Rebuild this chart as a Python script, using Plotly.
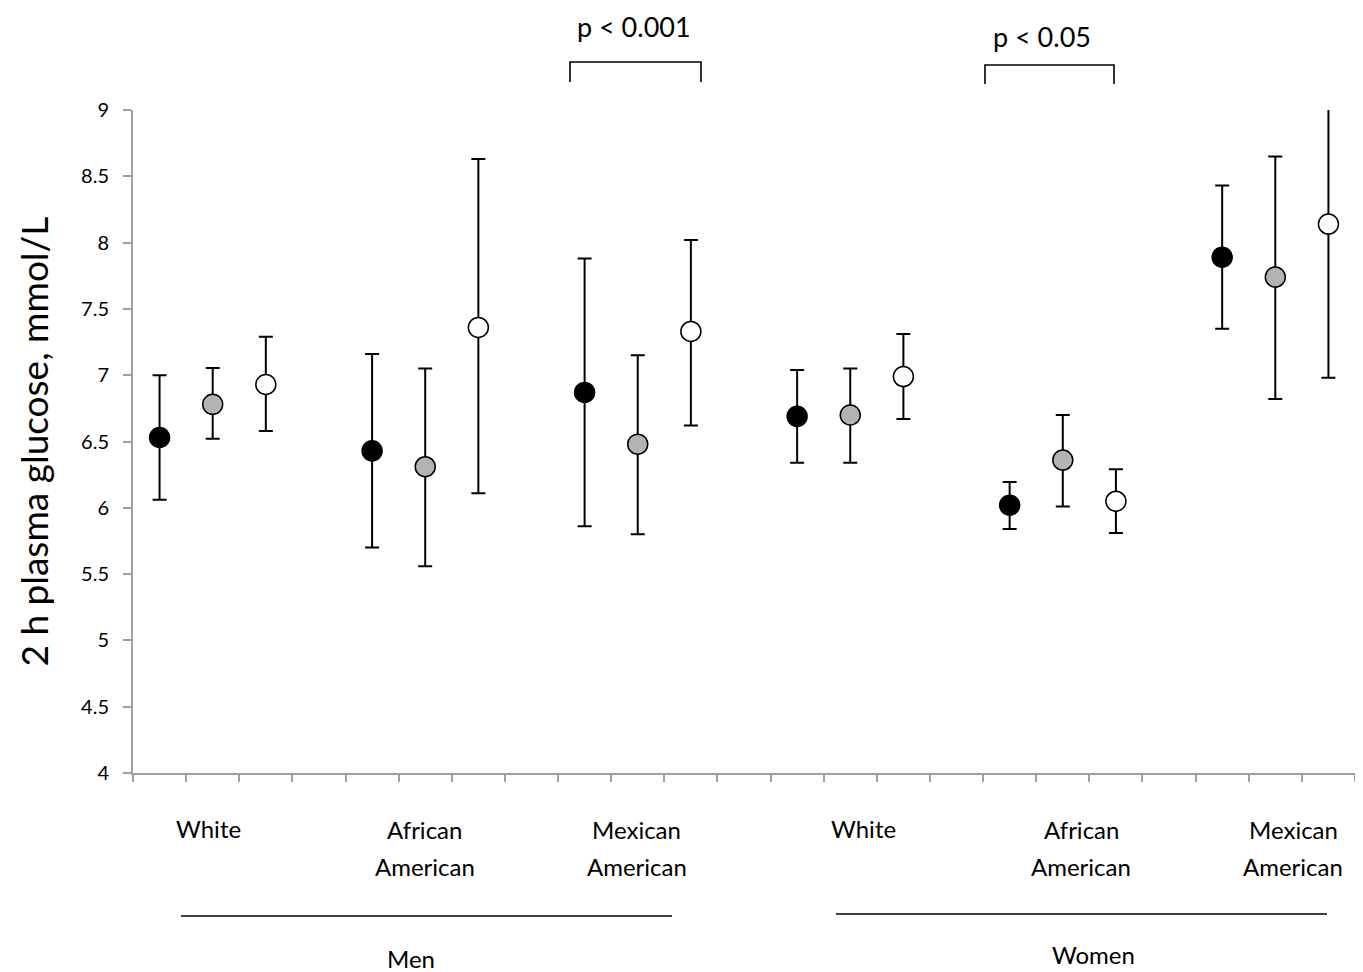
import plotly.graph_objects as go

# ---- data ----
series_names = ["Group 1", "Group 2", "Group 3"]
series_colors = ["#000000", "#b3b3b3", "#ffffff"]
# x positions (category slots; boundaries at integers, points at slot centres)
x_slots = [
    [0, 4, 8, 12, 16, 20],
    [1, 5, 9, 13, 17, 21],
    [2, 6, 10, 14, 18, 22],
]
means = [
    [6.53, 6.43, 6.87, 6.69, 6.02, 7.89],
    [6.78, 6.31, 6.48, 6.70, 6.36, 7.74],
    [6.93, 7.36, 7.33, 6.99, 6.05, 8.14],
]
upper = [
    [7.00, 7.16, 7.88, 7.04, 6.195, 8.43],
    [7.055, 7.05, 7.15, 7.05, 6.70, 8.65],
    [7.29, 8.63, 8.02, 7.31, 6.29, 9.30],
]
lower = [
    [6.06, 5.70, 5.86, 6.34, 5.84, 7.35],
    [6.52, 5.56, 5.80, 6.34, 6.01, 6.82],
    [6.58, 6.11, 6.62, 6.67, 5.81, 6.98],
]
category_labels = [
    (["White"], 0.0614),
    (["African", "American"], 0.2389),
    (["Mexican", "American"], 0.4124),
    (["White"], 0.5974),
    (["African", "American"], 0.7758),
    (["Mexican", "American"], 0.9493),
]
sex_labels = [("Men", 0.2275, -0.2805), ("Women", 0.7864, -0.2745)]
y_ticks = [4, 4.5, 5, 5.5, 6, 6.5, 7, 7.5, 8, 8.5, 9]
y_title = "2 h plasma glucose, mmol/L"

FONT = "Lato, Open Sans, sans-serif"
AXIS_COL = "#a0a0a0"

fig = go.Figure()
for k in range(3):
    xs = [s + 0.5 for s in x_slots[k]]
    fig.add_trace(go.Scatter(
        x=xs, y=means[k], mode="markers", name=series_names[k],
        marker=dict(size=20, color=series_colors[k],
                    line=dict(color="#000000", width=1.5)),
        error_y=dict(type="data", symmetric=False,
                     array=[u - m for u, m in zip(upper[k], means[k])],
                     arrayminus=[m - l for m, l in zip(means[k], lower[k])],
                     color="#000000", thickness=2, width=7),
        showlegend=False,
    ))

shapes = []
# significance brackets (paper coords)
for x0, x1, ytop, ybot in [(0.3576, 0.4648, 1.0724, 1.0422),
                           (0.6972, 0.8028, 1.0679, 1.0392)]:
    shapes.append(dict(type="path", xref="paper", yref="paper",
                       path=f"M {x0} {ybot} L {x0} {ytop} L {x1} {ytop} L {x1} {ybot}",
                       line=dict(color="#000000", width=1.6)))
# group lines
for x0, x1, yy in [(0.0393, 0.4411, -0.2157), (0.5753, 0.9771, -0.2127)]:
    shapes.append(dict(type="line", xref="paper", yref="paper",
                       x0=x0, x1=x1, y0=yy, y1=yy,
                       line=dict(color="#000000", width=1.5)))

annotations = []
for txt, xx, yy in [("p < 0.001", 0.41, 1.1252), ("p < 0.05", 0.7439, 1.1111)]:
    annotations.append(dict(text=txt, x=xx, y=yy, xref="paper", yref="paper",
                            showarrow=False, xanchor="center", yanchor="middle",
                            font=dict(size=27, color="#000000", family=FONT)))
for lines, xx in category_labels:
    if len(lines) == 1:
        ys = [-0.083]
    else:
        ys = [-0.0845, -0.1403]
    for ln, yy in zip(lines, ys):
        annotations.append(dict(text=ln, x=xx, y=yy, xref="paper", yref="paper",
                                showarrow=False, xanchor="center", yanchor="middle",
                                font=dict(size=24, color="#000000", family=FONT)))
for txt, xx, yy in sex_labels:
    annotations.append(dict(text=txt, x=xx, y=yy, xref="paper", yref="paper",
                            showarrow=False, xanchor="center", yanchor="middle",
                            font=dict(size=24, color="#000000", family=FONT)))
annotations.append(dict(text=y_title, x=-0.0818, y=0.5, xref="paper", yref="paper",
                        showarrow=False, textangle=-90, xanchor="center", yanchor="middle",
                        font=dict(size=37, color="#000000", family=FONT)))

# the page body adds an 8px offset; size the figure to fit the window exactly
fig.update_layout(
    width=1355, height=964,
    margin=dict(l=125, r=8, t=102, b=199),
    plot_bgcolor="#ffffff", paper_bgcolor="#ffffff",
    shapes=shapes, annotations=annotations,
    xaxis=dict(range=[0, 23], tickvals=list(range(24)), showticklabels=False,
               ticks="outside", ticklen=7, tickwidth=2, tickcolor=AXIS_COL,
               showline=True, linecolor=AXIS_COL, linewidth=2,
               showgrid=False, zeroline=False, fixedrange=True),
    yaxis=dict(range=[4, 9], tickvals=y_ticks,
               ticktext=[f"{v:g}" for v in y_ticks],
               ticks="outside", ticklen=8, tickwidth=2, tickcolor=AXIS_COL,
               ticklabelstandoff=10,
               showline=True, linecolor=AXIS_COL, linewidth=2,
               showgrid=False, zeroline=False,
               tickfont=dict(size=20, color="#000000", family=FONT)),
)

fig.write_html("out.html")
